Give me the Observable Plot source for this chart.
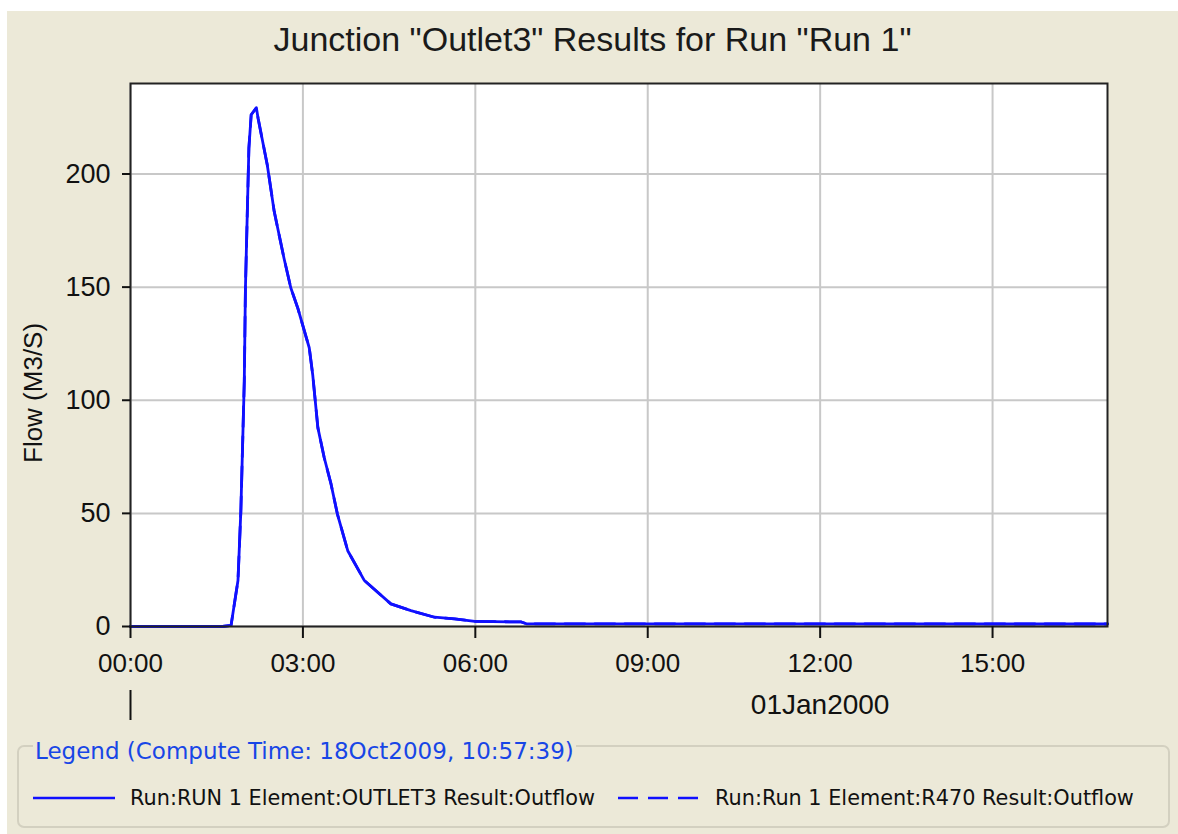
<!DOCTYPE html>
<html><head><meta charset="utf-8">
<script src="https://cdn.jsdelivr.net/npm/d3@7"></script>
<script src="https://cdn.jsdelivr.net/npm/@observablehq/plot@0.6"></script>
<style>
body{margin:0;background:#fff;width:1178px;height:834px;overflow:hidden;position:relative;font-family:"Liberation Sans",Arial,sans-serif}
#panel{position:absolute;left:7px;top:11px;width:1171px;height:823px;background:#ECE9D8}
#title{position:absolute;left:7px;width:1171px;top:19px;text-align:center;font-size:34px;line-height:40px;color:#1a1a1a;white-space:nowrap}
#chart{position:absolute;left:0;top:0}
#lbox{position:absolute;left:17px;top:745px;width:1153px;height:83px;box-sizing:border-box;border:2px solid #d3d0c0;border-radius:7px}
#ltitle{position:absolute;left:33px;top:738px;padding:0 2px;background:#ECE9D8;color:#1846e6;font-family:"DejaVu Sans",sans-serif;font-size:23px;line-height:26px;white-space:nowrap}
.item{position:absolute;top:784px;height:28px;display:flex;align-items:center;font-family:"DejaVu Sans",sans-serif;font-size:20.8px;color:#111;white-space:nowrap}
.item svg{margin-right:15px}
</style></head>
<body>
<div id="panel"></div>
<div id="title"></div>
<div id="chart"></div>
<div id="lbox"></div>
<div id="ltitle"></div>
<div class="item" id="item0" style="left:33px"></div>
<div class="item" id="item1" style="left:618px"></div>
<script>
const titleText = 'Junction "Outlet3" Results for Run "Run 1"';
const yLabel = "Flow (M3/S)";
const dateLabel = "01Jan2000";
const legendTitle = "Legend (Compute Time: 18Oct2009, 10:57:39)";
const seriesNames = ["Run:RUN 1 Element:OUTLET3 Result:Outflow", "Run:Run 1 Element:R470 Result:Outflow"];
const seriesDash = [null, "20,10"];

// hours after 01Jan2000 00:00
const hours = [0, 1.6, 1.75, 1.87, 1.92, 1.98, 2.0, 2.06, 2.1, 2.19, 2.22, 2.38, 2.5, 2.67, 2.79, 2.91, 3.11, 3.17, 3.26, 3.37, 3.49, 3.6, 3.78, 4.07, 4.53, 4.88, 5.29, 5.64, 5.99, 6.8, 6.89, 17];
const outlet3 = [0, 0, 0.5, 20.3, 51, 108.5, 149.6, 211.4, 226.2, 229.3, 224.6, 204, 183.5, 162.9, 149.6, 140.8, 123.2, 111.4, 87.9, 74.7, 62.9, 49.7, 33.5, 20.3, 10, 7, 4.1, 3.4, 2.3, 2.0, 1.2, 1.1];
const r470 = outlet3.slice();

const yTicks = [0, 50, 100, 150, 200];
const xTickHours = [0, 3, 6, 9, 12, 15];

const base = Date.UTC(2000, 0, 1);
const toDate = h => new Date(base + h * 3600e3);
const rows = [];
[outlet3, r470].forEach((vals, s) => hours.forEach((h, i) => rows.push({t: toDate(h), v: vals[i], s})));

document.getElementById("title").textContent = titleText;
document.getElementById("ltitle").textContent = legendTitle;

const chart = Plot.plot({
  width: 1178, height: 730,
  marginLeft: 130, marginRight: 71, marginTop: 83, marginBottom: 104,
  style: {background: "transparent", fontFamily: "Liberation Sans, Arial, sans-serif", color: "#111"},
  x: {type: "utc", domain: [toDate(0), toDate(17)]},
  y: {domain: [0, 240]},
  marks: [
    Plot.frame({fill: "white", stroke: null}),
    Plot.gridX(xTickHours.map(toDate), {stroke: "#c8c8c8", strokeOpacity: 1, strokeWidth: 2}),
    Plot.gridY(yTicks, {stroke: "#c8c8c8", strokeOpacity: 1, strokeWidth: 2}),
    Plot.lineY(rows.filter(d => d.s === 0), {x: "t", y: "v", stroke: "#1010ff", strokeWidth: 2.8, strokeLinejoin: "round"}),
    Plot.lineY(rows.filter(d => d.s === 1), {x: "t", y: "v", stroke: "#1010ff", strokeWidth: 2.8, strokeLinejoin: "round", strokeDasharray: seriesDash[1]}),
    Plot.frame({stroke: "#222", strokeWidth: 2}),
    Plot.axisY(yTicks, {tickSize: 8, tickPadding: 12, fontSize: 27, label: null, stroke: "#111", strokeWidth: 2}),
    Plot.axisX(xTickHours.map(toDate), {tickSize: 12, tickPadding: 15, fontSize: 26, label: null, tickFormat: d3.utcFormat("%H:%M"), stroke: "#111", strokeWidth: 2}),
    Plot.axisX([toDate(0)], {tickSize: 30, tickFormat: () => "", label: null, dy: 64, stroke: "#111", strokeWidth: 2}),
    Plot.text([dateLabel], {x: () => toDate(12), frameAnchor: "bottom", lineAnchor: "top", dy: 68, fontSize: 28, fill: "#111"}),
    Plot.text([yLabel], {frameAnchor: "left", rotate: -90, dx: -97, dy: 108, fontSize: 26, fill: "#111"})
  ]
});
document.getElementById("chart").appendChild(chart);

function swatch(dash) {
  const ns = "http://www.w3.org/2000/svg";
  const svg = document.createElementNS(ns, "svg");
  svg.setAttribute("width", 82); svg.setAttribute("height", 10);
  const l = document.createElementNS(ns, "line");
  l.setAttribute("x1", 0); l.setAttribute("x2", 82); l.setAttribute("y1", 5); l.setAttribute("y2", 5);
  l.setAttribute("stroke", "#1010ff"); l.setAttribute("stroke-width", 2.5);
  if (dash) l.setAttribute("stroke-dasharray", dash);
  svg.appendChild(l);
  return svg;
}
seriesNames.forEach((n, i) => {
  const el = document.getElementById("item" + i);
  el.appendChild(swatch(seriesDash[i]));
  const sp = document.createElement("span"); sp.textContent = n; el.appendChild(sp);
});
</script>
</body></html>
